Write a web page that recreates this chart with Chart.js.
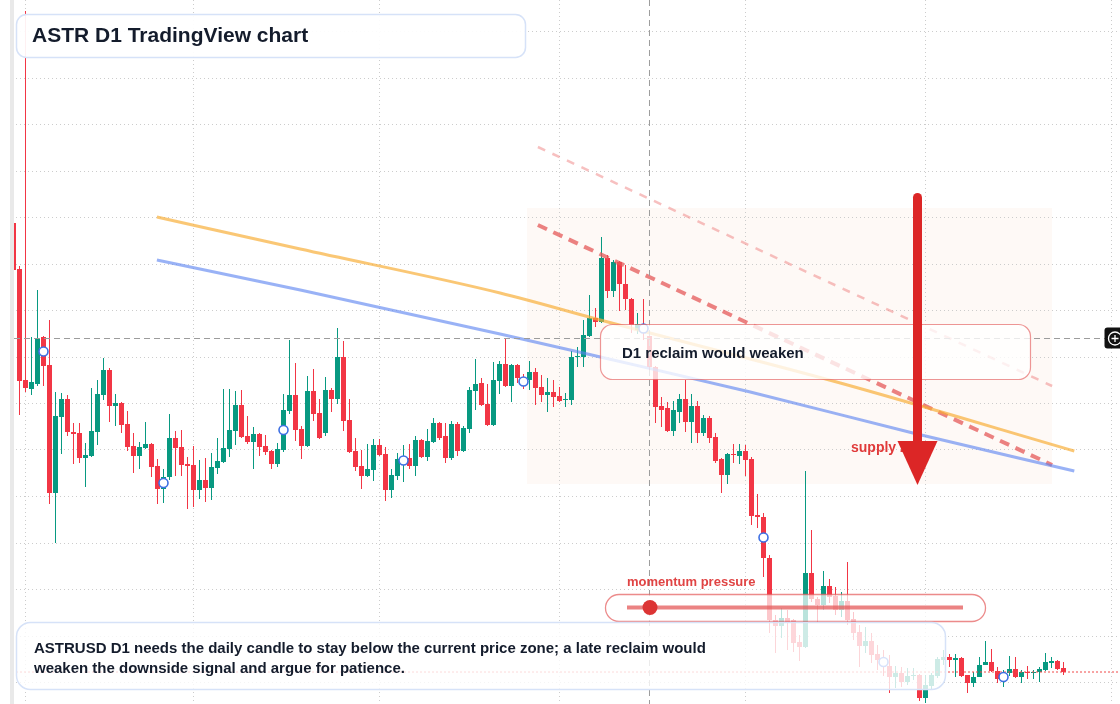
<!DOCTYPE html>
<html>
<head>
<meta charset="utf-8">
<script src="https://cdn.jsdelivr.net/npm/chart.js@4.4.1/dist/chart.umd.min.js"></script>
<style>
    html, body { margin: 0; padding: 0; background: #ffffff; }
    canvas { display: block; }
</style>
</head>
<body>
<canvas id="grafico_d1" width="1120" height="704"></canvas>
<script>
// ASTRUSD D1 candles, prices in 1/10000 USD, one entry per day
const opens = [497,451,340,331,336,383,355,227,303,321,288,287,262,264,288,325,350,314,317,296,
    274,264,272,276,254,231,243,282,273,256,255,230,240,232,252,258,271,289,315,284,
    278,286,274,269,256,270,309,325,291,274,329,307,287,330,321,363,300,269,254,244,
    250,275,266,230,244,257,262,254,280,263,278,297,284,262,296,269,291,329,337,316,
    295,339,356,334,355,341,340,348,333,325,328,324,320,320,363,363,384,402,398,462,
    429,458,436,421,390,396,384,353,314,312,289,308,321,298,314,287,302,283,261,245,
    266,264,269,261,205,203,162,100,94,102,100,78,73,147,121,115,134,124,110,119,
    101,88,74,79,66,61,54,43,47,38,44,45,22,34,44,60,63,60,62,45,
    37,43,55,58,49,41,47,51,43,48,47,48,50,57,59,52];
const highs = [498,454,709,383,430,384,400,328,327,325,297,297,277,332,340,362,352,326,318,309,
    287,278,298,277,261,251,306,289,290,263,274,260,262,267,282,331,331,329,330,304,
    293,287,285,270,277,326,380,357,294,344,351,321,343,332,392,379,321,282,270,276,
    281,281,273,251,267,275,276,284,281,291,302,298,297,299,298,294,333,361,342,336,
    358,359,381,356,356,346,359,352,345,342,340,333,327,369,373,400,425,412,483,465,
    460,459,455,422,407,421,390,354,323,318,319,326,340,326,319,305,304,287,262,267,
    276,276,275,263,226,207,165,105,112,110,101,85,249,190,123,149,141,133,128,158,
    108,95,93,87,75,70,65,54,53,52,52,46,45,47,63,70,66,66,63,45,
    48,63,79,71,53,50,64,63,50,54,50,53,67,63,60,58];
const lows = [448,305,328,325,334,334,216,177,266,284,256,257,233,263,275,320,298,294,287,269,
    247,251,271,243,216,217,240,244,244,211,213,221,218,220,246,257,263,275,282,276,
    251,264,265,251,253,268,306,279,261,273,299,281,284,308,316,289,267,249,231,243,
    239,264,219,222,240,238,251,244,262,259,277,280,257,260,264,268,287,310,314,294,
    294,326,333,318,337,331,330,315,318,308,313,318,313,315,353,353,383,393,397,422,
    423,409,410,387,386,380,350,297,293,288,284,297,288,277,277,284,277,257,227,236,
    257,256,244,195,192,143,87,67,82,70,68,59,72,118,98,110,117,105,103,95,
    80,53,67,57,50,44,27,32,33,35,40,19,17,30,42,55,53,43,43,27,
    33,43,55,48,37,33,44,42,37,41,41,38,49,52,50,45];
const closes = [450,339,332,338,382,354,227,304,321,288,286,262,265,289,326,350,314,317,295,273,
    264,273,276,253,231,243,282,272,255,254,230,240,232,253,259,272,290,315,283,278,
    286,273,268,256,271,310,325,290,274,329,306,282,330,321,363,299,268,253,244,251,
    275,265,230,245,261,262,254,280,263,279,297,282,262,296,269,292,330,336,315,295,
    340,356,334,355,342,336,348,332,325,328,323,319,321,363,364,385,402,398,462,429,
    458,436,421,395,396,387,353,313,310,289,310,321,298,314,287,302,282,259,245,266,
    265,269,260,204,203,162,100,94,102,98,77,73,147,121,115,134,123,110,119,100,
    87,74,79,65,60,55,43,47,38,44,45,22,35,45,61,63,60,62,44,37,
    43,55,58,49,41,45,51,43,48,47,48,51,58,59,51,48];

// day index of each month start (vertical grid) and horizontal grid prices
const monthStarts = [2, 30, 61, 91, 122, 152, 183];
const priceLevels = [38, 84.5, 131, 177.5, 224, 270.5, 317, 363.5, 410, 456.5, 503, 549.5, 596, 642.5, 689];

// signal markers every 20 sessions
const signalDays = [5, 25, 45, 65, 85, 105, 125, 145, 165];

// slow averages (day index, price)
const emaOrangeDays = [23.9, 47.8, 81.1, 97.8, 137.8, 176.8];
const emaOrange = [503, 471, 427, 400, 337, 269];
const emaBlueDays = [23.9, 47.8, 81.1, 97.8, 122.8, 149.9, 176.8];
const emaBlue = [460, 430, 386, 363, 328, 287, 249];

// descending channel drawn from the local top
const channelDays = [87.4, 173.1];
const channelLow = [495, 255];
const channelHigh = [573, 334];

// crosshair position
const crossDay = 106;
const crossPrice = 382;

const corVerde = '#089981';
const corVermelha = '#f23645';
const fonte = '"Liberation Sans", Arial, sans-serif';

const ultimo = closes[closes.length - 1];
const xMin = -2.25;
const xMax = 184.4167;

const corpo = opens.map((o, i) => ({ x: i, y: [o, closes[i]] }));
const pavio = opens.map((o, i) => ({ x: i, y: [lows[i], highs[i]] }));
const marcadores = signalDays.map(i => ({ x: i, y: (opens[i] + closes[i]) / 2 }));

function corCandle(ctx) {
    const i = ctx.dataIndex;
    return closes[i] >= opens[i] ? corVerde : corVermelha;
}

function caixa(ctx, x, y, w, h, r, fill, stroke, lw) {
    ctx.beginPath();
    ctx.roundRect(x, y, w, h, r);
    ctx.fillStyle = fill;
    ctx.fill();
    ctx.strokeStyle = stroke;
    ctx.lineWidth = lw;
    ctx.stroke();
}

const anotacoes = {
    id: 'anotacoes',
    beforeDatasetsDraw(chart) {
        const ctx = chart.ctx;
        const xs = chart.scales.x;
        const ys = chart.scales.y;
        ctx.save();
        // supply zone shade
        ctx.fillStyle = 'rgba(240, 180, 140, 0.08)';
        ctx.fillRect(527, 208, 525, 276);
        // dotted grid
        ctx.strokeStyle = '#cccccc';
        ctx.lineWidth = 1;
        ctx.setLineDash([1, 3]);
        ctx.beginPath();
        monthStarts.forEach(d => {
            const px = Math.round(xs.getPixelForValue(d)) + 0.5;
            ctx.moveTo(px, 0);
            ctx.lineTo(px, 704);
        });
        priceLevels.forEach(p => {
            const py = Math.round(ys.getPixelForValue(p)) + 0.5;
            ctx.moveTo(0, py);
            ctx.lineTo(1120, py);
        });
        ctx.stroke();
        ctx.restore();
    },
    afterDatasetsDraw(chart) {
        const ctx = chart.ctx;
        const xs = chart.scales.x;
        const ys = chart.scales.y;
        ctx.save();

        // crosshair
        const cx = xs.getPixelForValue(crossDay);
        const cy = Math.round(ys.getPixelForValue(crossPrice)) + 0.5;
        ctx.strokeStyle = '#9c9c9c';
        ctx.lineWidth = 1;
        ctx.setLineDash([6, 4]);
        ctx.beginPath();
        ctx.moveTo(cx, 0);
        ctx.lineTo(cx, 704);
        ctx.moveTo(14, cy);
        ctx.lineTo(1105, cy);
        ctx.stroke();
        ctx.setLineDash([]);

        // title
        caixa(ctx, 16.5, 14.5, 509, 43, 10, 'rgba(255,255,255,0.93)', '#d6e2f8', 1.5);
        ctx.fillStyle = '#141c2c';
        ctx.textBaseline = 'middle';
        ctx.font = 'bold 21px ' + fonte;
        ctx.fillText('ASTR D1 TradingView chart', 32, 36.5);

        // reclaim box
        caixa(ctx, 600.5, 324.5, 430, 55, 12, 'rgba(255,255,255,0.78)', 'rgba(226,82,82,0.6)', 1.2);
        ctx.fillStyle = '#141c2c';
        ctx.font = 'bold 15px ' + fonte;
        ctx.fillText('D1 reclaim would weaken', 622, 353.5);

        // supply zone label and arrow
        ctx.fillStyle = '#e03a3a';
        ctx.font = 'bold 14px ' + fonte;
        ctx.fillText('supply zone', 851, 448);
        ctx.strokeStyle = '#dc2626';
        ctx.lineWidth = 9;
        ctx.lineCap = 'round';
        ctx.beginPath();
        ctx.moveTo(917.5, 197.5);
        ctx.lineTo(917.5, 445);
        ctx.stroke();
        ctx.lineCap = 'butt';
        ctx.fillStyle = '#dc2626';
        ctx.beginPath();
        ctx.moveTo(897.5, 441);
        ctx.lineTo(937.5, 441);
        ctx.lineTo(917.5, 485);
        ctx.closePath();
        ctx.fill();

        // momentum pressure gauge
        ctx.fillStyle = '#e04444';
        ctx.font = 'bold 13px ' + fonte;
        ctx.fillText('momentum pressure', 627, 582.5);
        caixa(ctx, 605.5, 594.5, 380, 27, 13.5, 'rgba(255,255,255,0.72)', 'rgba(228,90,90,0.7)', 1.3);
        ctx.strokeStyle = 'rgba(228,90,90,0.75)';
        ctx.lineWidth = 4;
        ctx.beginPath();
        ctx.moveTo(627, 607.5);
        ctx.lineTo(963, 607.5);
        ctx.stroke();
        ctx.fillStyle = '#dc3434';
        ctx.beginPath();
        ctx.arc(650, 607.5, 7.5, 0, Math.PI * 2);
        ctx.fill();

        // note
        caixa(ctx, 16.5, 622.5, 929, 67, 14, 'rgba(255,255,255,0.8)', '#d6e2f8', 1.5);
        ctx.fillStyle = '#141c2c';
        ctx.font = 'bold 15px ' + fonte;
        ctx.fillText('ASTRUSD D1 needs the daily candle to stay below the current price zone; a late reclaim would', 34, 648.5);
        ctx.fillText('weaken the downside signal and argue for patience.', 34, 668.5);

        // left edge
        ctx.fillStyle = '#ffffff';
        ctx.fillRect(0, 0, 10, 704);
        ctx.fillStyle = '#e9e9e9';
        ctx.fillRect(10, 0, 4, 704);

        // crosshair button
        ctx.fillStyle = '#111111';
        ctx.beginPath();
        ctx.roundRect(1104.5, 327.5, 22, 21, 3);
        ctx.fill();
        ctx.strokeStyle = '#ffffff';
        ctx.lineWidth = 1.3;
        ctx.beginPath();
        ctx.arc(1115, cy, 6.5, 0, Math.PI * 2);
        ctx.stroke();
        ctx.beginPath();
        ctx.moveTo(1111.5, cy);
        ctx.lineTo(1118.5, cy);
        ctx.moveTo(1115, cy - 3.5);
        ctx.lineTo(1115, cy + 3.5);
        ctx.stroke();

        ctx.restore();
    }
};

const config_d1 = {
    type: 'bar',
    data: {
        datasets: [
            {
                label: 'pavio',
                data: pavio,
                backgroundColor: corCandle,
                grouped: false,
                maxBarThickness: 1,
                barPercentage: 1,
                categoryPercentage: 1,
                inflateAmount: 0,
                order: 6
            },
            {
                label: 'corpo',
                data: corpo,
                backgroundColor: corCandle,
                grouped: false,
                maxBarThickness: 5,
                barPercentage: 1,
                categoryPercentage: 1,
                minBarLength: 1,
                inflateAmount: 0,
                order: 5
            },
            {
                type: 'line',
                label: 'canal alto',
                data: channelDays.map((d, i) => ({ x: d, y: channelHigh[i] })),
                borderColor: 'rgba(240,140,140,0.55)',
                borderWidth: 2.5,
                borderDash: [8, 8],
                pointRadius: 0,
                order: 4
            },
            {
                type: 'line',
                label: 'canal baixo',
                data: channelDays.map((d, i) => ({ x: d, y: channelLow[i] })),
                borderColor: 'rgba(230,90,90,0.75)',
                borderWidth: 4,
                borderDash: [10, 7],
                pointRadius: 0,
                order: 4
            },
            {
                type: 'line',
                label: 'media laranja',
                data: emaOrangeDays.map((d, i) => ({ x: d, y: emaOrange[i] })),
                borderColor: 'rgba(247,172,52,0.68)',
                borderWidth: 3,
                pointRadius: 0,
                cubicInterpolationMode: 'monotone',
                order: 3
            },
            {
                type: 'line',
                label: 'media azul',
                data: emaBlueDays.map((d, i) => ({ x: d, y: emaBlue[i] })),
                borderColor: 'rgba(90,130,240,0.62)',
                borderWidth: 3,
                pointRadius: 0,
                cubicInterpolationMode: 'monotone',
                order: 3
            },
            {
                type: 'line',
                label: 'ultimo preco',
                data: [{ x: xMin, y: ultimo }, { x: xMax, y: ultimo }],
                borderColor: '#f04848',
                borderWidth: 1,
                borderDash: [2, 2],
                pointRadius: 0,
                order: 2
            },
            {
                type: 'line',
                label: 'sinais',
                data: marcadores,
                showLine: false,
                pointRadius: 4.5,
                pointBorderWidth: 1.6,
                pointBackgroundColor: '#ffffff',
                pointBorderColor: '#3d6fe3',
                order: 1
            }
        ]
    },
    options: {
        responsive: false,
        devicePixelRatio: 1,
        animation: false,
        events: [],
        layout: { padding: 0, autoPadding: false },
        plugins: {
            legend: { display: false },
            tooltip: { enabled: false }
        },
        scales: {
            x: {
                type: 'linear',
                display: false,
                min: xMin,
                max: xMax,
                offset: false
            },
            y: {
                type: 'linear',
                display: false,
                min: 16,
                max: 720
            }
        }
    },
    plugins: [anotacoes]
};

const graficoD1 = new Chart(document.querySelector('#grafico_d1'), config_d1);
</script>
</body>
</html>
